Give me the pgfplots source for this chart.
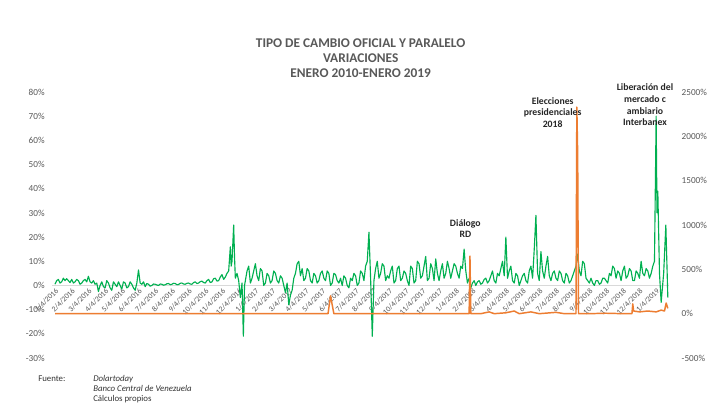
\documentclass[border=0pt]{standalone}
\usepackage{pgfplots}
\pgfplotsset{compat=1.18}
\usepackage{fontspec}
\setmainfont{Carlito}
\definecolor{verde}{HTML}{00B050}
\definecolor{naranja}{HTML}{ED7D31}
\definecolor{txtgray}{HTML}{595959}
\begin{document}
\begin{tikzpicture}
\path[fill=white] (0,0) rectangle (540pt,303.75pt);
\begin{axis}[
  at={(39pt,35.25pt)}, anchor=south west,
  scale only axis, width=462.75pt, height=199.5pt,
  xmin=-0.18, xmax=36.77, ymin=-30, ymax=80,
  axis x line=middle, axis y line=left,
  x axis line style={-, draw=gray!30, line width=0.6pt},
  y axis line style={draw=none},
  major tick length=0,
  hide obscured x ticks=false, hide obscured y ticks=false,
  xtick={0,...,36},
  xticklabels={1/4/2016,2/4/2016,3/4/2016,4/4/2016,5/4/2016,6/4/2016,7/4/2016,8/4/2016,9/4/2016,10/4/2016,11/4/2016,12/4/2016,1/4/2017,2/4/2017,3/4/2017,4/4/2017,5/4/2017,6/4/2017,7/4/2017,8/4/2017,9/4/2017,10/4/2017,11/4/2017,12/4/2017,1/4/2018,2/4/2018,3/4/2018,4/4/2018,5/4/2018,6/4/2018,7/4/2018,8/4/2018,9/4/2018,10/4/2018,11/4/2018,12/4/2018,1/4/2019},
  xticklabel style={rotate=45, anchor=north east, font=\fontsize{5.8}{6}\selectfont, text=txtgray, inner sep=1pt},
  ytick={-30,-20,...,80},
  yticklabels={-30\%,-20\%,-10\%,0\%,10\%,20\%,30\%,40\%,50\%,60\%,70\%,80\%},
  yticklabel style={font=\fontsize{6.9}{8}\selectfont, text=txtgray, xshift=-2pt},
]
\addplot[verde, line width=0.85pt, line join=round] coordinates {
(0,0.5)(0.1,2)(0.2,2.5)(0.3,1)(0.4,1.5)(0.5,3)(0.6,2)(0.7,2.8)(0.8,2)(0.9,1.2)
(1,2.5)(1.1,1)(1.2,1.5)(1.3,2.5)(1.4,2)(1.5,0.5)(1.6,1)(1.7,2)(1.8,2.5)(1.9,1.5)
(2,3.8)(2.1,1.5)(2.2,1)(2.3,2)(2.4,0.5)(2.5,1)(2.6,-2.5)(2.7,0)(2.8,1.5)(2.9,-0.5)
(3,-1)(3.1,2)(3.2,1)(3.3,-1)(3.4,-2)(3.5,1.5)(3.6,0.5)(3.7,-0.5)(3.8,1.5)(3.9,0)
(4,-1.5)(4.1,1.5)(4.2,1)(4.3,-1)(4.4,-0.5)(4.5,1.5)(4.6,0.5)(4.7,-1)(4.8,-2)(4.9,1)
(5,6.4)(5.1,1)(5.2,0.5)(5.3,1.5)(5.4,-0.5)(5.5,0.8)(5.6,0.5)(5.7,-0.3)(5.8,0)(5.9,0.6)
(6,0.5)(6.1,0.2)(6.2,0)(6.3,0.6)(6.4,0.5)(6.5,0.1)(6.6,0.3)(6.7,0.7)(6.8,0.8)(6.9,0.3)
(7,0.5)(7.1,0.9)(7.2,0.8)(7.3,0.3)(7.4,0.4)(7.5,0.9)(7.6,1)(7.7,0.6)(7.8,0.5)(7.9,0.9)
(8,1)(8.1,0.6)(8.2,0.5)(8.3,1.2)(8.4,1.5)(8.5,0.8)(8.6,1)(8.7,1.6)(8.8,1.8)(8.9,1.2)
(9,1)(9.1,2)(9.2,2.5)(9.3,1.2)(9.4,1.5)(9.5,2.8)(9.6,3)(9.7,1.8)(9.8,2)(9.9,3.5)
(10,4.5)(10.1,2.5)(10.2,3.5)(10.3,5)(10.4,6)(10.5,16)(10.55,8)(10.6,10)(10.7,25)(10.75,12)(10.8,3)(10.9,5)
(11,2)(11.1,-5)(11.2,1)(11.28,-21)(11.35,0)(11.4,2)(11.5,6)(11.6,8)(11.7,1)(11.8,3)(11.9,6)
(12,9)(12.1,4)(12.2,2)(12.3,7)(12.4,6)(12.5,0)(12.6,1)(12.7,5)(12.8,4)(12.9,1)
(13,2)(13.1,6)(13.2,5)(13.3,2)(13.4,1)(13.5,4)(13.6,3)(13.7,0)(13.8,-3)(13.9,1)
(14,-8)(14.1,-4)(14.2,-2)(14.3,3)(14.4,5)(14.5,9)(14.6,10)(14.7,4)(14.8,7)(14.9,2)
(15,3)(15.1,7)(15.2,6)(15.3,2)(15.4,1)(15.5,5)(15.6,4)(15.7,1)(15.8,2)(15.9,5)
(16,6)(16.1,3)(16.2,2)(16.3,6)(16.4,5)(16.5,0)(16.6,1)(16.7,5)(16.8,4.5)(16.9,2)
(17,1)(17.1,3)(17.2,0)(17.3,4)(17.4,3)(17.5,0)(17.6,-1)(17.7,3)(17.8,2)(17.9,5)
(18,4)(18.1,0)(18.2,1)(18.3,6)(18.4,5)(18.5,2)(18.6,8)(18.7,10)(18.8,22)(18.9,3)
(19,-21)(19.1,2)(19.2,7)(19.3,10)(19.4,3)(19.5,5)(19.6,9)(19.7,8)(19.8,2)(19.9,4)
(20,3)(20.1,6)(20.2,8)(20.3,1)(20.4,2)(20.5,7)(20.6,8)(20.7,2)(20.8,3)(20.9,6)
(21,5)(21.1,2)(21.2,0)(21.3,8)(21.4,7)(21.5,1)(21.6,2)(21.7,10)(21.8,9)(21.9,3)
(22,4)(22.1,8)(22.2,12)(22.3,2)(22.4,3)(22.5,9)(22.6,7)(22.7,2)(22.8,11)(22.9,5)
(23,2)(23.1,6)(23.2,9)(23.3,3)(23.4,5)(23.5,10)(23.6,7)(23.7,3)(23.8,6)(23.9,9)
(24,8)(24.1,5)(24.2,3)(24.3,8)(24.4,7)(24.5,15)(24.6,6)(24.7,1)(24.8,3)(24.9,-1)
(25,1)(25.1,2)(25.2,0)(25.3,1.5)(25.4,2)(25.5,0.5)(25.6,1)(25.7,2.5)(25.8,3)(25.9,1)
(26,2)(26.1,4)(26.2,6)(26.3,2)(26.4,1)(26.5,5)(26.6,4)(26.7,7)(26.8,10)(26.9,4)
(27,20)(27.1,3)(27.2,6)(27.3,8)(27.4,2)(27.5,1)(27.6,5)(27.7,4)(27.8,0)(27.9,2)
(28,4)(28.1,5)(28.2,2)(28.3,1)(28.4,6)(28.5,8)(28.6,3)(28.7,15)(28.8,29)(28.9,5)
(29,2)(29.1,14)(29.2,6)(29.3,3)(29.4,8)(29.5,12)(29.6,4)(29.7,2)(29.8,5)(29.9,6)
(30,3)(30.1,2)(30.2,6)(30.3,5)(30.4,2)(30.5,1)(30.6,5)(30.7,4)(30.8,1)(30.9,2)
(31,4)(31.1,6)(31.2,8)(31.3,13)(31.4,6)(31.5,4)(31.6,10)(31.7,9)(31.8,3)(31.9,2)
(32,1)(32.1,3)(32.2,1)(32.3,0)(32.4,2)(32.5,2)(32.6,0.5)(32.7,1)(32.8,3)(32.9,3)
(33,2)(33.1,1)(33.2,5)(33.3,4)(33.4,8)(33.5,7)(33.6,3)(33.7,6)(33.8,5)(33.9,2)
(34,6)(34.1,8)(34.2,3)(34.3,4)(34.4,7)(34.5,6)(34.6,2)(34.7,2)(34.8,6)(34.9,5)
(35,3)(35.1,10)(35.2,5)(35.3,4)(35.4,7)(35.5,6)(35.6,3)(35.7,5)(35.8,8)(35.9,10)
(36,70)(36.05,30)(36.1,39)(36.2,5)(36.3,-7)(36.45,5)(36.58,25)(36.7,-5)
};
\end{axis}
\begin{axis}[
  at={(39pt,35.25pt)}, anchor=south west,
  scale only axis, width=462.75pt, height=199.5pt,
  xmin=-0.18, xmax=36.77, ymin=-500, ymax=2500,
  axis x line=none, axis y line*=right,
  y axis line style={draw=none},
  major tick length=0,
  ytick={-500,0,...,2500},
  yticklabels={-500\%,0\%,500\%,1000\%,1500\%,2000\%,2500\%},
  yticklabel style={font=\fontsize{6.9}{8}\selectfont, text=txtgray, xshift=6pt},
]
\addplot[naranja, line width=1.1pt, line join=round] coordinates {
(0,0)(16.35,0)(16.5,200)(16.7,0)(24.8,0)(24.85,650)(24.9,0)(25.5,0)(26,20)(26.3,0)(27,10)(27.5,30)(27.8,0)(28.5,20)(29,0)(30,15)(30.5,0)(31.2,0)(31.25,2330)(31.3,1800)(31.35,0)(32,0)(33,5)(34,0)(34.55,0)(34.6,110)(34.65,30)(35,20)(35.5,30)(36,20)(36.3,40)(36.5,30)(36.6,120)(36.7,60)
};
\end{axis}
\node[align=center, font=\bfseries\fontsize{10}{11.25}\selectfont, text=txtgray] at (270.5pt,259.9pt) {TIPO DE CAMBIO OFICIAL Y PARALELO\\VARIACIONES\\ENERO 2010-ENERO 2019};
\node[align=center, font=\bfseries\fontsize{7.3}{8.5}\selectfont, text=black!85] at (349pt,132.4pt) {Diálogo\\RD};
\node[align=center, font=\bfseries\fontsize{7.3}{8.6}\selectfont, text=black!85] at (414.5pt,219.5pt) {Elecciones\\presidenciales\\2018};
\node[align=center, font=\bfseries\fontsize{7.3}{8.9}\selectfont, text=black!85] at (483.75pt,225.2pt) {Liberación del\\mercado c\\ambiario\\Interbanex};
\node[anchor=base west, font=\fontsize{6.6}{8}\selectfont, text=black!80, inner sep=0pt] at (28.5pt,18pt) {Fuente:};
\node[anchor=base west, font=\itshape\fontsize{6.6}{8}\selectfont, text=black!80, inner sep=0pt] at (69.75pt,18pt) {Dolartoday};
\node[anchor=base west, font=\itshape\fontsize{6.6}{8}\selectfont, text=black!80, inner sep=0pt] at (69.75pt,9.9pt) {Banco Central de Venezuela};
\node[anchor=base west, font=\fontsize{6.6}{8}\selectfont, text=black!80, inner sep=0pt] at (69.75pt,2.4pt) {Cálculos propios};
\end{tikzpicture}
\end{document}
